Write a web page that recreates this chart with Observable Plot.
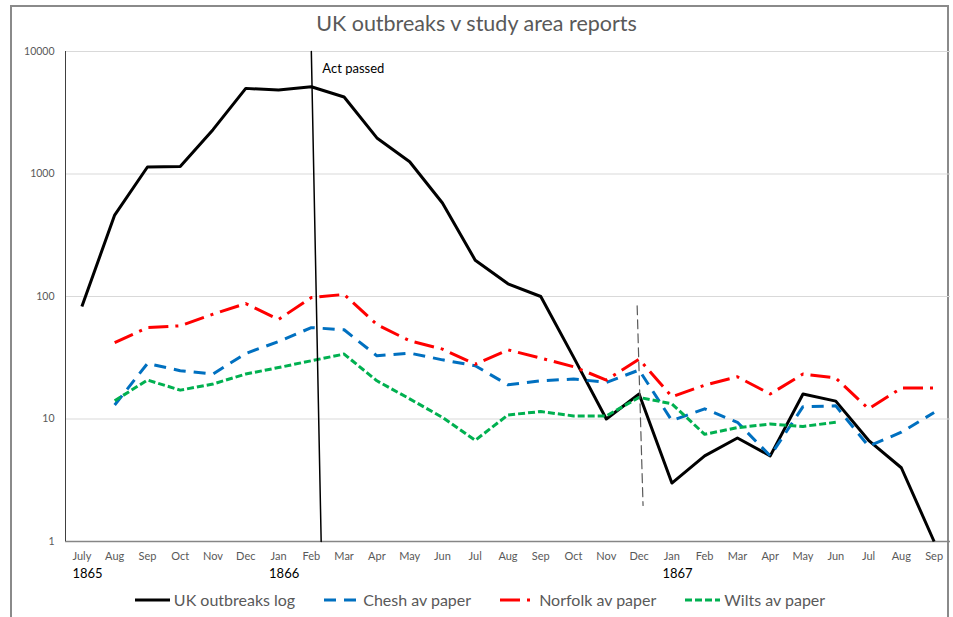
<!DOCTYPE html>
<html><head><meta charset="utf-8">
<script src="https://cdn.jsdelivr.net/npm/d3@7"></script>
<script src="https://cdn.jsdelivr.net/npm/@observablehq/plot@0.6"></script>
<style>
body{margin:0;background:#fff;font-family:Lato,"Open Sans",sans-serif;}
#wrap{position:relative;width:953px;height:617px;overflow:hidden;background:#fff;}
#frame{position:absolute;left:10px;top:5px;width:935px;height:700px;border:2px solid #8a8a8a;}
#title{position:absolute;left:0;width:953px;top:10px;text-align:center;font-size:21.5px;color:#595959;line-height:26px;}
#chart{position:absolute;left:0;top:40px;}
#legend{position:absolute;left:0;width:953px;top:589px;display:flex;justify-content:center;gap:29px;font-size:16px;color:#595959;padding-left:7px;box-sizing:border-box;}
.item{display:flex;align-items:center;gap:4px;line-height:22px;}
</style></head>
<body><div id="wrap"><div id="frame"></div><div id="title">UK outbreaks v study area reports</div><div id="chart"></div><div id="legend"></div></div>
<script>
const months = ["July","Aug","Sep","Oct","Nov","Dec","Jan","Feb","Mar","Apr","May","Jun","Jul","Aug","Sep","Oct","Nov","Dec","Jan","Feb","Mar","Apr","May","Jun","Jul","Aug","Sep"];
const yearLabels = [{i:0,label:"1865"},{i:6,label:"1866"},{i:18,label:"1867"}];
const yTicks = [1,10,100,1000,10000];

const ukOutbreaks = [83,462,1140,1150,2300,5000,4850,5150,4250,1970,1260,580,198,127,100,32,10,16,3,5,7,5,16,14,6.7,4,1];
const chesh   = [null,13,28.4,24.8,23.3,34.3,42.9,55.7,53.5,32.8,34.5,30.4,27.2,19,20.5,21.2,19.9,25.1,9.7,12.1,9.4,5.0,12.6,12.8,6.0,7.8,11.3];
const norfolk = [null,42,55.7,57.6,71.7,87.6,65,98,104,59,43.5,37.2,28,36.7,31.4,26.7,20.8,30.8,15.2,18.9,22.1,16,23.3,21.6,12.1,17.9,17.9];
const wilts   = [null,14.1,20.8,17.2,19.3,23.3,26.3,29.9,33.9,20.5,14.6,10.3,6.7,10.8,11.5,10.6,10.6,15,13.3,7.5,8.5,9.1,8.7,9.4,null,null,null];

const seriesNames = ["UK outbreaks log","Chesh av paper","Norfolk av paper","Wilts av paper"];
const seriesColors = ["#000000","#0070C0","#FF0000","#00B050"];
const seriesDash = [null,"12,8","20,7,3,7","7,3"];
const seriesValues = [ukOutbreaks, chesh, norfolk, wilts];

const actLine = [{i:7,v:10000},{i:7.3,v:1}];
const actLabel = [{i:7,v:10000,label:"Act passed"}];
const decLine = [{i:16.94,v:84},{i:17.12,v:1.97}];

const lineMarks = seriesValues.map((vals,s) => {
  const data = vals.map((v,i)=>({i,v})).filter(d=>d.v!=null);
  return Plot.line(data,{x:"i",y:"v",stroke:seriesColors[s],strokeWidth:3,strokeDasharray:seriesDash[s],strokeLinejoin:"round",strokeLinecap:"butt"});
});

const chart = Plot.plot({
  width:953, height:545, marginTop:11, marginBottom:44, marginLeft:65, marginRight:3,
  style:{background:"transparent",fontFamily:"Lato, 'Open Sans', sans-serif"},
  x:{domain:[-0.5,26.5]},
  y:{type:"log",domain:[1,10000]},
  marks:[
    Plot.gridY(yTicks.filter(d=>d>1),{stroke:"#d9d9d9",strokeOpacity:1,strokeWidth:1}),
    Plot.axisY(yTicks,{tickSize:0,tickPadding:11,tickFormat:d=>String(d),fontSize:10.5,fill:"#595959",label:null}),
    Plot.axisX(d3.range(27),{tickSize:0,tickPadding:11,tickFormat:i=>months[i],fontSize:11,fill:"#595959",label:null}),
    Plot.ruleY([1],{stroke:"#868686",strokeWidth:1.5}),
    Plot.ruleX([-0.5],{y1:1,y2:10000,stroke:"#404040",strokeWidth:1}),
    Plot.text(yearLabels,{x:"i",y:()=>1,text:"label",textAnchor:"start",dx:-9.5,dy:32,fontSize:13,fill:"#000"}),
    ...lineMarks,
    Plot.line(actLine,{x:"i",y:"v",stroke:"#000",strokeWidth:1.5}),
    Plot.text(actLabel,{x:"i",y:"v",text:"label",textAnchor:"start",dx:11,dy:17,fontSize:13,fill:"#000"}),
    Plot.line(decLine,{x:"i",y:"v",stroke:"#595959",strokeWidth:1.2,strokeDasharray:"9,5"})
  ]
});
document.getElementById("chart").appendChild(chart);

const legend = document.getElementById("legend");
seriesNames.forEach((name,s)=>{
  const item = document.createElement("div");
  item.className = "item";
  const dash = seriesDash[s] ? `stroke-dasharray="${seriesDash[s]}"` : "";
  item.innerHTML = `<svg width="35" height="10"><line x1="0" y1="5" x2="35" y2="5" stroke="${seriesColors[s]}" stroke-width="3" ${dash}/></svg><span>${name}</span>`;
  legend.appendChild(item);
});
</script>
</body></html>
